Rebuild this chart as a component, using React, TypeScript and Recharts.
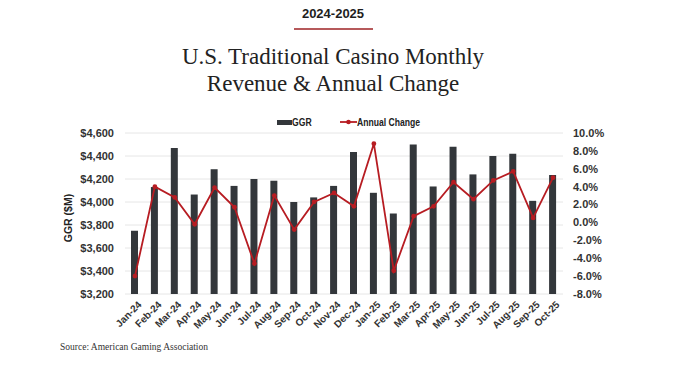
// Casino GGR by month (bars) with year-over-year change (line), two y axes.

import { ComposedChart, Bar, Line, XAxis, YAxis, CartesianGrid } from 'recharts';

const months = [
  'Jan-24', 'Feb-24', 'Mar-24', 'Apr-24', 'May-24', 'Jun-24', 'Jul-24', 'Aug-24',
  'Sep-24', 'Oct-24', 'Nov-24', 'Dec-24', 'Jan-25', 'Feb-25', 'Mar-25', 'Apr-25',
  'May-25', 'Jun-25', 'Jul-25', 'Aug-25', 'Sep-25', 'Oct-25',
];
const ggr = [
  3750, 4130, 4470, 4065, 4285, 4140, 4200, 4185, 4000, 4040, 4140,
  4435, 4080, 3900, 4500, 4135, 4480, 4240, 4400, 4420, 4010, 4235,
];
const annualChange = [
  -6.0, 4.0, 2.8, -0.2, 3.9, 1.7, -4.6, 3.0, -0.8, 2.3, 3.3,
  1.8, 8.8, -5.4, 0.7, 1.8, 4.5, 2.6, 4.7, 5.7, 0.5, 5.0,
];
const leftTicks = [3200, 3400, 3600, 3800, 4000, 4200, 4400, 4600];
const rightTicks = [-8, -6, -4, -2, 0, 2, 4, 6, 8, 10];

const BAR = '#33373b';
const RED = '#b71c22';
const SANS = '"Liberation Sans", Arial, sans-serif';
const SERIF = '"Liberation Serif", "Times New Roman", serif';

const rows = months.map((m, i) => ({ month: m, ggr: ggr[i], change: annualChange[i] }));

const fmtDollar = (v: number) => `$${v.toLocaleString('en-US')}`;
const fmtPct = (v: number) => `${v.toFixed(1)}%`;

function MonthTick({ x, y, payload }: { x?: number; y?: number; payload?: { value: string } }) {
  return (
    <g transform={`translate(${(x ?? 0) + 3},${(y ?? 0) - 1})`}>
      <text
        x={0}
        y={0}
        dy={6}
        textAnchor="end"
        transform="rotate(-45)"
        fill="#333"
        fontSize={10}
        fontWeight={700}
        fontFamily={SANS}
      >
        {payload?.value}
      </text>
    </g>
  );
}

// the legend face is a condensed grotesque; squeeze Liberation Sans to match
const legendText = {
  position: 'absolute' as const, top: 116, fontFamily: SANS, fontWeight: 700,
  fontSize: 10.5, lineHeight: '12px', color: '#222', whiteSpace: 'nowrap' as const,
  transform: 'scaleX(0.82)', transformOrigin: 'left center',
};

export default function App() {
  return (
    <div style={{ position: 'absolute', left: 0, top: 0, width: 680, height: 375, background: '#fff', overflow: 'hidden' }}>
      {/* header */}
      <div style={{
        position: 'absolute', left: 0, top: 6, width: 666, textAlign: 'center',
        fontFamily: SANS, fontWeight: 700, fontSize: 13, color: '#1e1e1e', lineHeight: 'normal',
      }}>
        2024-2025
      </div>
      <div style={{ position: 'absolute', left: 294, top: 28, width: 79, height: 2, background: '#b6595b' }} />
      <div style={{
        position: 'absolute', left: 0, top: 44, width: 666, textAlign: 'center',
        fontFamily: SERIF, fontSize: 23, lineHeight: '26.7px', color: '#222',
      }}>
        U.S. Traditional Casino Monthly<br />Revenue &amp; Annual Change
      </div>

      {/* legend */}
      <div style={{ position: 'absolute', left: 277, top: 120, width: 15, height: 5, background: BAR }} />
      <div style={{ ...legendText, left: 292 }}>GGR</div>
      <svg width={17} height={8} style={{ position: 'absolute', left: 340, top: 118 }}>
        <line x1={0} y1={4} x2={17} y2={4} stroke={RED} strokeWidth={1.8} />
        <circle cx={8.5} cy={4} r={2.3} fill={RED} />
      </svg>
      <div style={{ ...legendText, left: 357 }}>Annual Change</div>

      {/* y axis title */}
      <div style={{
        position: 'absolute', left: 68, top: 218, transform: 'translate(-50%, -50%) rotate(-90deg)',
        fontFamily: SANS, fontWeight: 700, fontSize: 10.5, color: '#222', whiteSpace: 'nowrap',
      }}>
        GGR ($M)
      </div>

      <ComposedChart
        width={680}
        height={375}
        data={rows}
        margin={{ top: 133, right: 0, bottom: 21, left: 0 }}
        barCategoryGap={0}
      >
        <CartesianGrid yAxisId="left" vertical={false} stroke="#e6e6e6" strokeWidth={1} />
        <XAxis
          dataKey="month"
          interval={0}
          height={60}
          axisLine={false}
          tickLine={false}
          tick={<MonthTick />}
        />
        <YAxis
          yAxisId="left"
          orientation="left"
          width={125}
          domain={[3200, 4600]}
          ticks={leftTicks}
          allowDataOverflow
          tickFormatter={fmtDollar}
          axisLine={false}
          tickLine={false}
          tickMargin={5}
          tick={{ fill: '#333', fontSize: 11, fontWeight: 700, fontFamily: SANS }}
        />
        <YAxis
          yAxisId="right"
          orientation="right"
          width={117}
          domain={[-8, 10]}
          ticks={rightTicks}
          tickFormatter={fmtPct}
          axisLine={false}
          tickLine={false}
          tickMargin={4}
          tick={{ fill: '#333', fontSize: 11, fontWeight: 700, fontFamily: SANS }}
        />
        <Bar yAxisId="left" dataKey="ggr" fill={BAR} barSize={7} isAnimationActive={false} />
        <Line
          yAxisId="right"
          dataKey="change"
          stroke={RED}
          strokeWidth={1.8}
          dot={{ r: 2.4, fill: RED, stroke: RED, strokeWidth: 0 }}
          activeDot={false}
          isAnimationActive={false}
        />
      </ComposedChart>

      <div style={{
        position: 'absolute', left: 60, top: 342, fontFamily: SERIF, fontSize: 9.5, color: '#333', whiteSpace: 'nowrap',
      }}>
        Source: American Gaming Association
      </div>
    </div>
  );
}
